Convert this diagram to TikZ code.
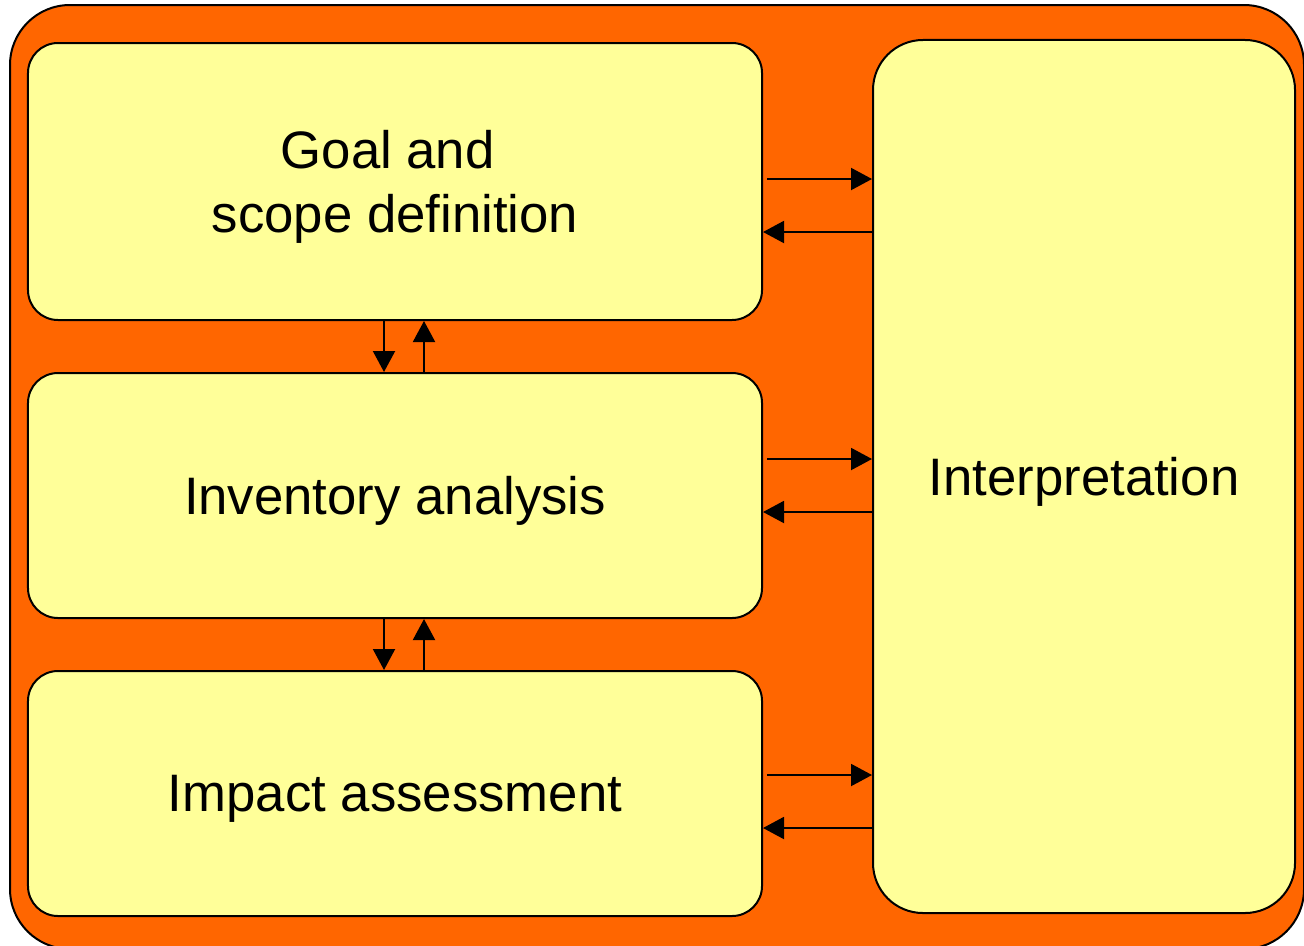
\documentclass[tikz,border=0pt]{standalone}
\usepackage{fontspec}
\setmainfont{Liberation Sans}
\usetikzlibrary{arrows.meta}
\definecolor{lcaorange}{HTML}{FF6600}
\definecolor{lcayellow}{HTML}{FFFF99}
\tikzset{
  stage/.style={draw, line width=0.4mm, fill=lcayellow, rounded corners=6mm,
    minimum width=146.8mm, align=center, text depth=0pt,
    font=\fontsize{30}{36}\selectfont},
  arr/.style={line width=0.4mm, -{Triangle[length=4.2mm,width=4.4mm]}}
}
\begin{document}
\begin{tikzpicture}[x=0.2mm,y=-0.2mm]
\useasboundingbox (0,0) rectangle (1304,945);
\draw [line width=0.4mm, fill=lcaorange, rounded corners=12mm] (10,5) rectangle (1304,949);
% stages
\node [stage, minimum height=55.4mm] (goal) at (395,181.5) {Goal and\hphantom{f}\\scope definition};
\node [stage, minimum height=49mm] (inv) at (395,495.5) {Inventory analysis};
\node [stage, minimum height=49mm] (imp) at (395,793.5) {Impact assessment};
\node [stage, minimum width=84.4mm, minimum height=174.6mm, rounded corners=10mm] (interp) at (1084,476.5) {Interpretation};
% to and from interpretation
\draw [arr, shorten <=0.8mm] (goal.east |- 0,179) -- (interp.west |- 0,179);
\draw [arr] (interp.west |- 0,232) -- (goal.east |- 0,232);
\draw [arr, shorten <=0.8mm] (inv.east |- 0,459) -- (interp.west |- 0,459);
\draw [arr] (interp.west |- 0,512) -- (inv.east |- 0,512);
\draw [arr, shorten <=0.8mm] (imp.east |- 0,775) -- (interp.west |- 0,775);
\draw [arr] (interp.west |- 0,828) -- (imp.east |- 0,828);
% between stages
\draw [arr] (goal.south -| 384,0) -- (inv.north -| 384,0);
\draw [arr] (inv.north -| 424,0) -- (goal.south -| 424,0);
\draw [arr] (inv.south -| 384,0) -- (imp.north -| 384,0);
\draw [arr] (imp.north -| 424,0) -- (inv.south -| 424,0);
\end{tikzpicture}
\end{document}
